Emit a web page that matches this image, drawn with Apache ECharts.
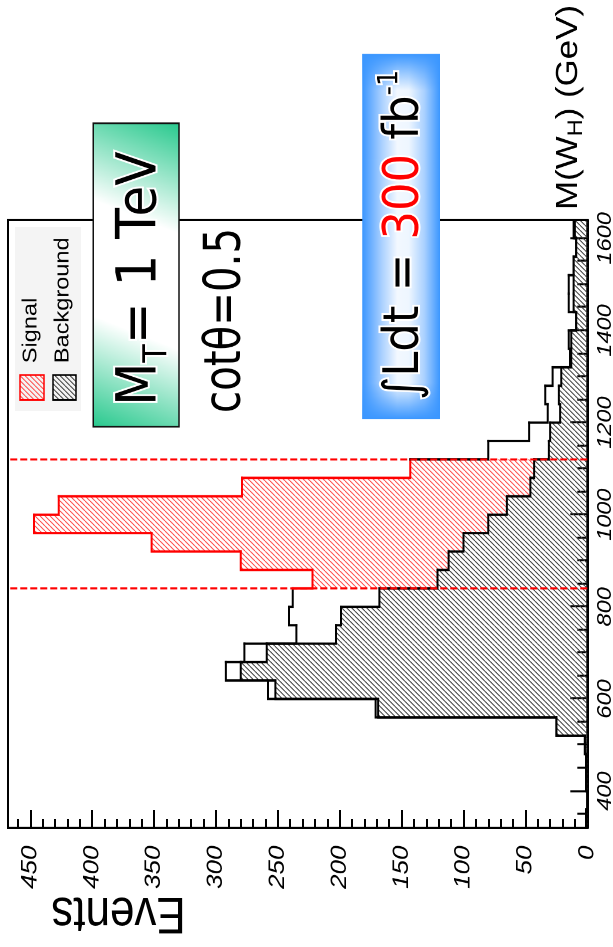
<!DOCTYPE html>
<html>
<head>
<meta charset="utf-8">
<script src="https://cdn.jsdelivr.net/npm/echarts@6/dist/echarts.min.js"></script>
<style>
  html, body { margin: 0; padding: 0; background: #fff; overflow: hidden; width: 613px; height: 947px; }
  /* The histogram is laid out landscape and turned a quarter turn counter-clockwise,
     with a slight stretch along the mass axis. */
  #plot {
    position: absolute; left: 0; top: 0;
    width: 803px; height: 613px;
    transform-origin: 0 0;
    transform: translate(0px, 947px) rotate(-90deg) scaleX(1.17933);
  }
</style>
</head>
<body>
<div id="plot"></div>
<script>
// ---- data -------------------------------------------------------------
const massBinLow = [320, 360, 400, 440, 480, 520, 560, 600, 640, 680, 720, 760, 800, 840, 880, 920, 960,
                    1000, 1040, 1080, 1120, 1160, 1200, 1240, 1280, 1320, 1360, 1400, 1440, 1480, 1520, 1560, 1600];
const binWidth = 40;
const background = [1, 0, 1, 1, 2, 25, 169, 252, 280, 259, 203, 199, 168, 121, 112, 100, 80,
                    65, 46, 43, 31, 30, 22, 23, 21, 13, 13, 9, 11, 11, 11, 9, 10];
const signal     = [0, 0, 0, 0, 0, 0, 2, 6, 12, 18, 32, 42, 70, 101, 168, 252, 367,
                    362, 233, 100, 49, 17, 10, 11, 7, 1, 2, 0, 4, 4, 0, 0, 1];
const massWindow = [840, 1120];
const massRange = [320, 1640];
const eventMax = 468;
const massTicks = [400, 600, 800, 1000, 1200, 1400, 1600];
const eventTicks = [0, 50, 100, 150, 200, 250, 300, 350, 400, 450];
const legendItems = ['Signal', 'Background'];

// minor tick positions between the labelled ones
const massMinorTicks = [];
for (let m = 350; m < massRange[1]; m += 50) if (m % 200 !== 0) massMinorTicks.push(m);
const eventMinorTicks = [];
for (let e = 10; e < eventMax; e += 10) if (e % 50 !== 0) eventMinorTicks.push(e);

// ---- helpers ----------------------------------------------------------
const axisFont = '"Liberation Sans", Arial, sans-serif';
const boxFont = '"DejaVu Sans", sans-serif';
const mctx = document.createElement('canvas').getContext('2d');

function fontStr(size, family, style) { return (style || 'normal') + ' ' + size + 'px ' + family; }
function textWidth(text, size, family, style) {
  mctx.font = fontStr(size, family, style);
  return mctx.measureText(text).width;
}
// distance from the 'middle' line down to the alphabetic baseline
function baseOffset(size, family, style) {
  mctx.font = fontStr(size, family, style);
  mctx.textBaseline = 'middle';
  const m = mctx.measureText('H');
  mctx.textBaseline = 'alphabetic';
  return (m && isFinite(m.actualBoundingBoxDescent)) ? m.actualBoundingBoxDescent : size * 0.33;
}

// A run of text pieces (sub/superscripts, coloured parts) set on one baseline.
function textRun(pieces, opt) {
  let cursor = 0;
  const z = opt.z || 60;
  const halo = [], ink = [];
  pieces.forEach(p => {
    const w = textWidth(p.text, p.size, opt.family, opt.fontStyle);
    const y = (p.dy || 0) - baseOffset(p.size, opt.family, opt.fontStyle);
    const base = { text: p.text, font: fontStr(p.size, opt.family, opt.fontStyle), align: 'left', verticalAlign: 'middle' };
    if (opt.halo) halo.push({ type: 'text', x: cursor, y, z: z, style: Object.assign({}, base, { fill: '#fff', stroke: '#fff', lineWidth: opt.halo }) });
    ink.push({ type: 'text', x: cursor, y, z: z + 1, style: Object.assign({}, base, { fill: p.color || '#000' }) });
    cursor += w;
  });
  const sx = opt.width ? opt.width / cursor : 1;
  const left = opt.right != null ? opt.right - cursor * sx : opt.x;
  return { type: 'group', x: left, y: opt.baseline, scaleX: sx, z: z, children: halo.concat(ink) };
}

function hatch(color) {
  const k = 4, w = 17, h = 20;
  const c = document.createElement('canvas');
  c.width = w; c.height = h;
  const g = c.getContext('2d');
  g.strokeStyle = color;
  g.lineWidth = k * 0.9;
  [-w, 0, w].forEach(off => { g.beginPath(); g.moveTo(off, h); g.lineTo(off + w, 0); g.stroke(); });
  return { image: c, repeat: 'repeat', scaleX: 1 / k, scaleY: 1 / k };
}
const bgHatch = hatch('#3a3a3a');
const sigHatch = hatch('rgba(255,40,40,0.85)');

// ---- series data built from the arrays above ----------------------------
const total = background.map((b, i) => b + signal[i]);
const inWindow = lo => lo >= massWindow[0] && lo + binWidth <= massWindow[1];

const bgFill = massBinLow.map((lo, i) => [lo, lo + binWidth, 0, background[i]]);
const sigFill = massBinLow.map((lo, i) => [lo, lo + binWidth, background[i], total[i]])
                          .filter(d => inWindow(d[0]));
const stepData = vals => massBinLow.map((lo, i) =>
  [lo, lo + binWidth, i === 0 ? 0 : vals[i - 1], vals[i], inWindow(lo) ? 1 : 0, i === massBinLow.length - 1 ? 1 : 0]);

function rectItem(fill) {
  return function (params, api) {
    const a = api.coord([api.value(0), api.value(2)]);
    const b = api.coord([api.value(1), api.value(3)]);
    return { type: 'rect', shape: { x: a[0], y: b[1], width: b[0] - a[0], height: a[1] - b[1] }, style: { fill } };
  };
}
function stepItem(colorIn, colorOut) {
  return function (params, api) {
    const lo = api.value(0), hi = api.value(1);
    const pts = [api.coord([lo, api.value(2)]), api.coord([lo, api.value(3)]), api.coord([hi, api.value(3)])];
    if (api.value(5)) pts.push(api.coord([hi, 0]));
    return { type: 'polyline', shape: { points: pts },
             style: { stroke: api.value(4) ? colorIn : colorOut, lineWidth: 2, fill: null, lineCap: 'square', lineJoin: 'miter' } };
  };
}

// ---- chart --------------------------------------------------------------
const chart = echarts.init(document.getElementById('plot'), null, { renderer: 'canvas', devicePixelRatio: 2, width: 803, height: 613 });

const tickLabel = { color: '#000', fontFamily: axisFont, fontStyle: 'italic', formatter: v => String(v) };

const option = {
  backgroundColor: '#fff',
  animation: false,
  grid: { left: 101, right: 186.5, top: 8, bottom: 25.7, containLabel: false, outerBoundsMode: 'none',
          show: true, borderColor: '#000', borderWidth: 2, backgroundColor: '#fff' },
  xAxis: [
    { type: 'value', min: massRange[0], max: massRange[1], position: 'bottom',
      axisLine: { show: true, lineStyle: { color: '#000', width: 2 } },
      axisTick: { show: true, inside: true, length: 17, customValues: massTicks, lineStyle: { color: '#000', width: 1.7 } },
      axisLabel: Object.assign({ show: true, fontSize: 20, margin: 8, customValues: massTicks }, tickLabel),
      splitLine: { show: false } },
    { type: 'value', min: massRange[0], max: massRange[1], position: 'bottom',
      axisLine: { show: false },
      axisTick: { show: true, inside: true, length: 10, customValues: massMinorTicks, lineStyle: { color: '#000', width: 1.7 } },
      axisLabel: { show: false }, splitLine: { show: false } }
  ],
  yAxis: [
    { type: 'value', min: 0, max: eventMax, position: 'left',
      axisLine: { show: true, lineStyle: { color: '#000', width: 1.7 } },
      axisTick: { show: true, inside: true, length: 15, customValues: eventTicks, lineStyle: { color: '#000', width: 2 } },
      axisLabel: Object.assign({ show: true, fontSize: 22, margin: 15, customValues: eventTicks }, tickLabel),
      splitLine: { show: false } },
    { type: 'value', min: 0, max: eventMax, position: 'left',
      axisLine: { show: false },
      axisTick: { show: true, inside: true, length: 7.5, customValues: eventMinorTicks, lineStyle: { color: '#000', width: 2 } },
      axisLabel: { show: false }, splitLine: { show: false } }
  ],
  series: [
    { name: 'Background', type: 'custom', renderItem: rectItem(bgHatch), data: bgFill,
      encode: { x: [0, 1], y: [2, 3] }, z: 2, silent: true },
    { name: 'Signal', type: 'custom', renderItem: rectItem(sigHatch), data: sigFill,
      encode: { x: [0, 1], y: [2, 3] }, z: 3, silent: true },
    { name: 'Background outline', type: 'custom', renderItem: stepItem('#000', '#000'), data: stepData(background),
      encode: { x: [0, 1], y: [2, 3] }, z: 4, silent: true },
    { name: 'Total outline', type: 'custom', renderItem: stepItem('#ff0000', '#000'), data: stepData(total),
      encode: { x: [0, 1], y: [2, 3] }, z: 5, silent: true },
    { name: 'Mass window', type: 'custom', data: massWindow.map(m => [m]), encode: { x: 0 }, z: 6, silent: true,
      renderItem: function (params, api) {
        const a = api.coord([api.value(0), 0]);
        const b = api.coord([api.value(0), eventMax]);
        return { type: 'line', shape: { x1: a[0], y1: a[1], x2: b[0], y2: b[1] },
                 style: { stroke: '#ff0000', lineWidth: 1.7, lineDash: [7, 3] } };
      } }
  ],
  graphic: { elements: [] }
};

const els = option.graphic.elements;

// axis titles
els.push(textRun([{ text: 'M(W', size: 31 }, { text: 'H', size: 21, dy: 5 }, { text: ') (GeV)', size: 31 }],
                 { family: axisFont, right: 798.8, width: 173.8, baseline: 577 }));
(function () {
  const size = 44;
  const off = baseOffset(size, axisFont);
  els.push({ type: 'text', x: 41.5 - off, y: 118.5, rotation: Math.PI / 2, z: 60,
             style: { text: 'Events', font: fontStr(size, axisFont), fill: '#000', align: 'center', verticalAlign: 'middle' } });
})();

// legend
els.push({ type: 'rect', z: 40, shape: { x: 454.5, y: 15, width: 156, height: 66 }, style: { fill: '#f4f4f4' } });
els.push({ type: 'rect', z: 41, shape: { x: 463.8, y: 20, width: 21.2, height: 24 }, style: { fill: sigHatch, stroke: '#ff0000', lineWidth: 1.5 } });
els.push({ type: 'rect', z: 41, shape: { x: 463.8, y: 53, width: 21.2, height: 23 }, style: { fill: bgHatch, stroke: '#000', lineWidth: 1.5 } });
els.push(textRun([{ text: legendItems[0], size: 20 }], { family: axisFont, x: 495, baseline: 36.3, z: 42 }));
els.push(textRun([{ text: legendItems[1], size: 20 }], { family: axisFont, x: 495, baseline: 68.3, z: 42 }));

// M_T box
els.push({ type: 'rect', z: 45, shape: { x: 441.2, y: 93.3, width: 257.3, height: 85.7 },
           style: { stroke: '#111', lineWidth: 1.5,
                    fill: new echarts.graphic.LinearGradient(0, 0, 1, 1, [
                      { offset: 0, color: 'rgb(38,200,140)' }, { offset: 0.33, color: '#ffffff' },
                      { offset: 0.67, color: '#ffffff' }, { offset: 1, color: 'rgb(38,200,140)' }]) } });
els.push(textRun([{ text: 'M', size: 55 }, { text: 'T', size: 33, dy: 10 }, { text: '= 1 TeV', size: 55 }],
                 { family: boxFont, x: 458.9, width: 215.6, baseline: 156.7, halo: 4, z: 50 }));

// coupling
els.push(textRun([{ text: 'cotθ=0.5', size: 51 }], { family: boxFont, x: 452.8, width: 156.9, baseline: 240, z: 50 }));

// luminosity box
els.push({ type: 'rect', z: 45, shape: { x: 447.5, y: 362.3, width: 309.7, height: 77.7 },
           style: { fill: new echarts.graphic.LinearGradient(0, 0, 0, 1, [
                      { offset: 0, color: '#3a96ff' }, { offset: 0.25, color: '#a9d0ff' },
                      { offset: 0.45, color: '#f2f8ff' }, { offset: 0.6, color: '#eef6ff' },
                      { offset: 0.8, color: '#a9d0ff' }, { offset: 1, color: '#3a96ff' }]) } });
els.push({ type: 'rect', z: 46, shape: { x: 447.5, y: 362.3, width: 309.7, height: 77.7 },
           style: { fill: new echarts.graphic.LinearGradient(0, 0, 1, 0, [
                      { offset: 0, color: 'rgba(58,150,255,1)' }, { offset: 0.1, color: 'rgba(58,150,255,0)' },
                      { offset: 0.9, color: 'rgba(58,150,255,0)' }, { offset: 1, color: 'rgba(58,150,255,1)' }]) } });
els.push(textRun([{ text: '∫Ldt = ', size: 49 }, { text: '300', size: 49, color: '#ff0000' },
                  { text: ' fb', size: 49 }, { text: '-1', size: 28, dy: -21 }],
                 { family: boxFont, x: 463.8, width: 280, baseline: 418, halo: 4, z: 50 }));

chart.setOption(option);
</script>
</body>
</html>
